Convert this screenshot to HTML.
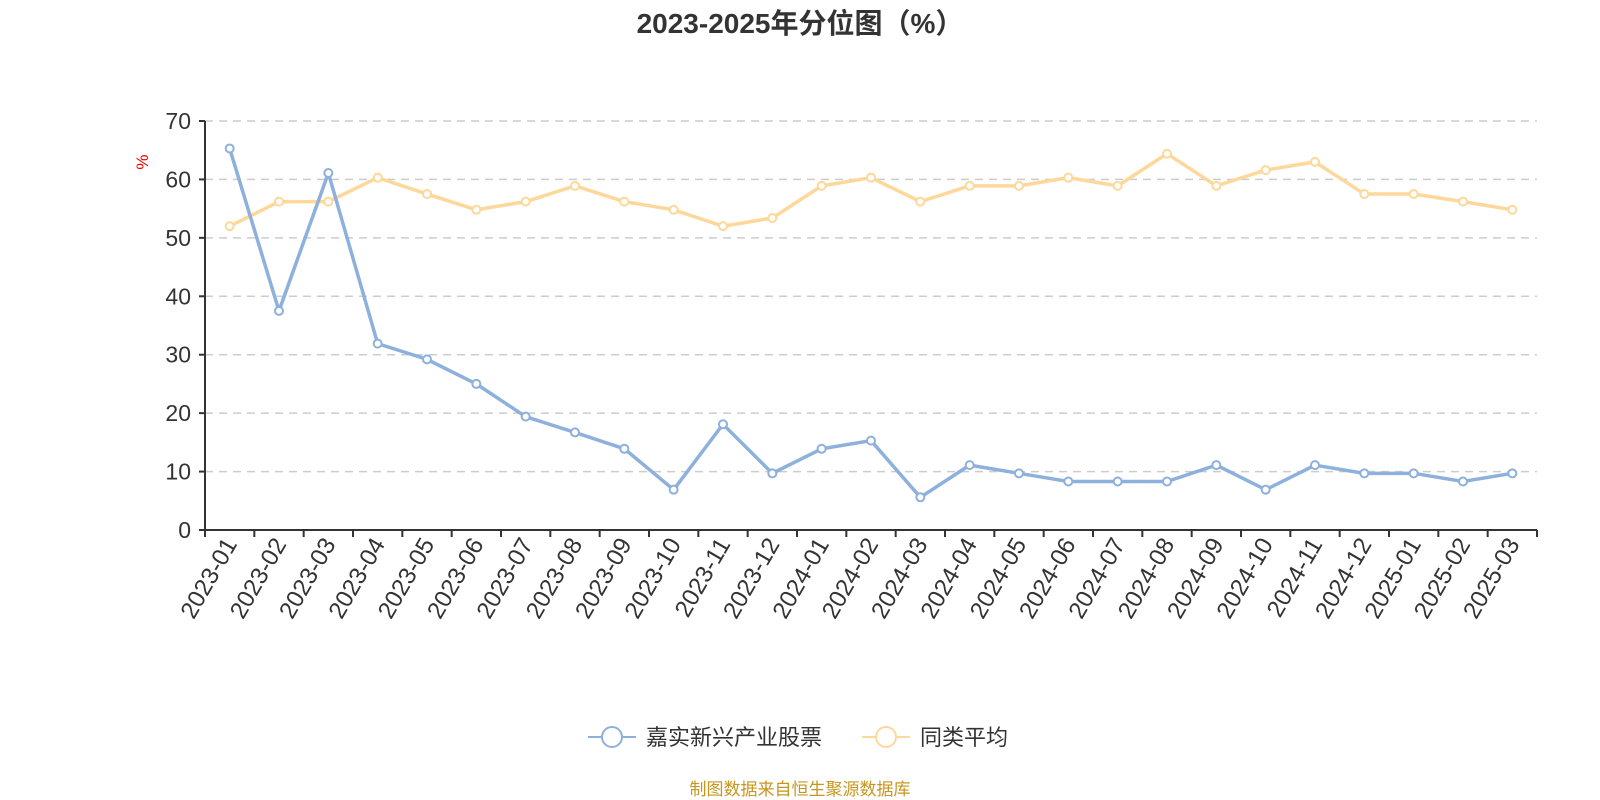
<!DOCTYPE html>
<html><head><meta charset="utf-8"><style>
body{margin:0;background:#fff;width:1600px;height:800px;overflow:hidden}
svg{display:block;font-family:"Liberation Sans","Noto Sans CJK SC",sans-serif}
</style></head><body>
<svg id="s" width="1600" height="800" xmlns="http://www.w3.org/2000/svg"></svg>
<script>
const B=[65.3,37.5,61.1,31.9,29.2,25,19.4,16.7,13.9,6.9,18.1,9.7,13.9,15.3,5.6,11.1,9.7,8.3,8.3,8.3,11.1,6.9,11.1,9.7,9.7,8.3,9.7];
const Y=[52,56.2,56.2,60.3,57.5,54.8,56.2,58.9,56.2,54.8,52,53.4,58.9,60.3,56.2,58.9,58.9,60.3,58.9,64.4,58.9,61.6,63,57.5,57.5,56.2,54.8];
const L=[];for(let y=2023;y<=2025;y++)for(let m=1;m<=12;m++){if(y==2025&&m>3)break;L.push(y+'-'+String(m).padStart(2,'0'));}
const x0=205,x1=1537,yb=530,yt=121,bw=(x1-x0)/27,ys=(yb-yt)/70;
const px=i=>x0+bw*(i+0.5),py=v=>yb-v*ys;
let h='<text x="800" y="33" text-anchor="middle" font-size="28" font-weight="bold" fill="#333">2023-2025年分位图（%）</text>';
for(let v=0;v<=70;v+=10){const y=py(v);
 if(v>0)h+=`<line x1="${x0}" x2="${x1}" y1="${y}" y2="${y}" stroke="#ccc" stroke-width="1.5" stroke-dasharray="8,6"/>`;
 h+=`<line x1="${x0-6}" x2="${x0}" y1="${y}" y2="${y}" stroke="#333" stroke-width="2"/>`;
 h+=`<text x="${x0-14}" y="${y+8}" text-anchor="end" font-size="23" fill="#333">${v}</text>`;}
h+=`<line x1="${x0}" x2="${x0}" y1="${yt}" y2="${yb}" stroke="#333" stroke-width="2"/>`;
h+=`<line x1="${x0}" x2="${x1}" y1="${yb}" y2="${yb}" stroke="#333" stroke-width="2"/>`;
h+=`<text x="0" y="0" transform="translate(148,162) rotate(-90)" text-anchor="middle" font-size="17" fill="#e00">%</text>`;
for(let i=0;i<=27;i++){const x=x0+bw*i;h+=`<line x1="${x}" x2="${x}" y1="${yb}" y2="${yb+7}" stroke="#333" stroke-width="2"/>`;}
L.forEach((l,i)=>{h+=`<text transform="translate(${px(i)+8},${yb+14}) rotate(-60)" text-anchor="end" font-size="24" fill="#333">${l}</text>`;});
function ser(d,c){h+=`<polyline fill="none" stroke="${c}" stroke-width="3.5" points="${d.map((v,i)=>px(i)+','+py(v)).join(' ')}"/>`;
 d.forEach((v,i)=>{h+=`<circle cx="${px(i)}" cy="${py(v)}" r="4" fill="#fff" stroke="${c}" stroke-width="2"/>`;});}
ser(Y,'#fdd89a');ser(B,'#8eb0dd');
h+=`<line x1="588" x2="636" y1="737" y2="737" stroke="#8eb0dd" stroke-width="2"/><circle cx="612" cy="737" r="10" fill="#fff" stroke="#8eb0dd" stroke-width="2"/>`;
h+=`<text x="646" y="745" font-size="22" fill="#333">嘉实新兴产业股票</text>`;
h+=`<line x1="862" x2="910" y1="737" y2="737" stroke="#fdd89a" stroke-width="2"/><circle cx="886" cy="737" r="10" fill="#fff" stroke="#fdd89a" stroke-width="2"/>`;
h+=`<text x="920" y="745" font-size="22" fill="#333">同类平均</text>`;
h+=`<text x="800" y="795" text-anchor="middle" font-size="17" fill="#c8961e">制图数据来自恒生聚源数据库</text>`;
document.getElementById('s').innerHTML=h;
</script>
</body></html>
